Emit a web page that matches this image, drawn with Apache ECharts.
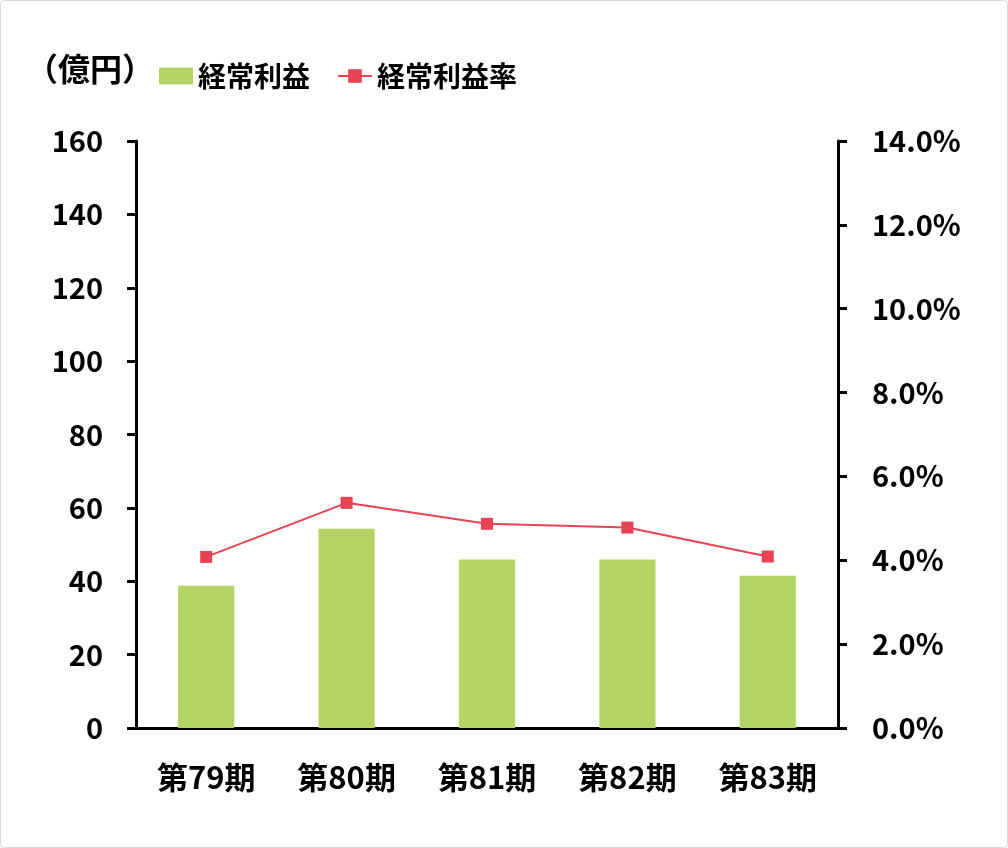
<!DOCTYPE html>
<html>
<head>
<meta charset="utf-8">
<script src="https://cdn.jsdelivr.net/npm/echarts@6/dist/echarts.min.js"></script>
<style>
html,body{margin:0;padding:0;background:#fff;}
#wrap{position:absolute;left:0;top:0;width:1006px;height:846px;border:1px solid #d9d9d9;border-radius:4px;}
#chart{width:1008px;height:848px;position:absolute;left:0;top:0;}
</style>
</head>
<body>
<div id="wrap"></div>
<div id="chart"></div>
<script>
const categories = ['第79期', '第80期', '第81期', '第82期', '第83期'];
const profitValues = [38.8, 54.3, 45.9, 45.9, 41.5];
const rateValues = [4.08, 5.37, 4.87, 4.78, 4.09];
const unitLabel = '（億円）';
const seriesNames = ['経常利益', '経常利益率'];

const font = '"Noto Sans CJK JP", "Noto Sans", sans-serif';
const chart = echarts.init(document.getElementById('chart'));
chart.setOption({
  animation: false,
  textStyle: { fontFamily: font },
  graphic: [{
    type: 'text', left: 26, top: 53,
    style: { text: unitLabel, font: 'bold 32px ' + font, fill: '#000' }
  }],
  legend: {
    left: 154, top: 57,
    itemWidth: 34, itemHeight: 17, itemGap: 27,
    textStyle: { fontSize: 28, fontWeight: 'bold', color: '#000', fontFamily: font },
    data: [
      { name: seriesNames[0], icon: 'rect' },
      { name: seriesNames[1] }
    ]
  },
  grid: { left: 136, right: 170, top: 141, bottom: 120, containLabel: false },
  xAxis: {
    type: 'category', data: categories,
    axisLine: { lineStyle: { color: '#000', width: 3 } },
    axisTick: { show: false },
    axisLabel: { fontSize: 31, fontWeight: 'bold', color: '#000', margin: 34, fontFamily: font }
  },
  yAxis: [{
    type: 'value', min: 0, max: 160, interval: 20,
    axisLine: { show: true, lineStyle: { color: '#000', width: 3 } },
    axisTick: { show: true, length: 9, lineStyle: { color: '#000', width: 3 } },
    splitLine: { show: false },
    axisLabel: { fontSize: 29, fontWeight: 'bold', color: '#000', margin: 33, fontFamily: font }
  }, {
    type: 'value', min: 0, max: 14, interval: 2, position: 'right',
    axisLine: { show: true, lineStyle: { color: '#000', width: 3 } },
    axisTick: { show: true, length: 9, lineStyle: { color: '#000', width: 3 } },
    splitLine: { show: false },
    axisLabel: { fontSize: 29, fontWeight: 'bold', color: '#000', margin: 34, fontFamily: font,
      formatter: v => v.toFixed(1) + '%' }
  }],
  series: [{
    name: seriesNames[0], type: 'bar', data: profitValues,
    barWidth: '40%', itemStyle: { color: '#B3D465' }
  }, {
    name: seriesNames[1], type: 'line', yAxisIndex: 1, data: rateValues,
    symbol: 'rect', symbolSize: 12,
    lineStyle: { color: '#E84354', width: 2 },
    itemStyle: { color: '#E84354' }
  }]
});
</script>
</body>
</html>
